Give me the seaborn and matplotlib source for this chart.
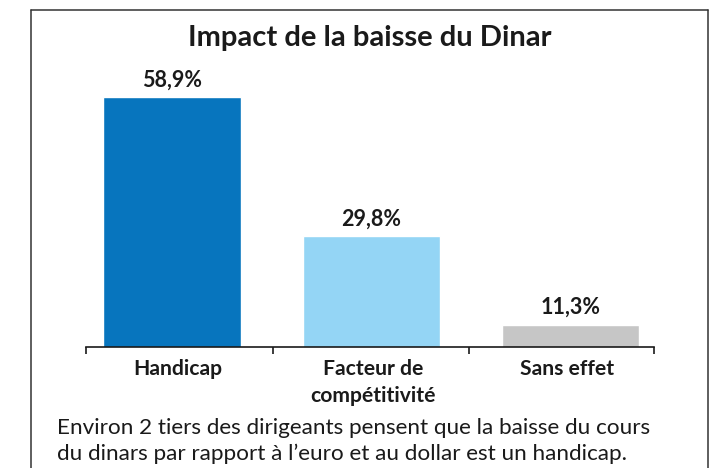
import matplotlib
matplotlib.use("Agg")
import matplotlib.pyplot as plt
import seaborn as sns
import pandas as pd
from matplotlib.lines import Line2D

categories = ["Handicap", "Facteur de\ncompétitivité", "Sans effet"]
values = [58.9, 29.8, 11.3]
value_labels = ["58,9%", "29,8%", "11,3%"]
colors = ["#0775BE", "#94D5F5", "#C6C6C6"]
title = "Impact de la baisse du Dinar"
caption = ("Environ 2 tiers des dirigeants pensent que la baisse du cours\n"
           "du dinars par rapport à l’euro et au dollar est un handicap.")

sns.set_theme(style="white")
plt.rcParams["font.family"] = ["Lato", "DejaVu Sans"]

df = pd.DataFrame({"cat": categories, "val": values})

W, H = 713, 468
fig = plt.figure(figsize=(W / 100, H / 100), dpi=100)
fig.patch.set_facecolor("white")

ax_left, ax_right = 86, 654
ax_bottom, ax_top = 346.5, 91.9
ax = fig.add_axes([ax_left / W, 1 - ax_bottom / H,
                   (ax_right - ax_left) / W, (ax_bottom - ax_top) / H])

sns.barplot(data=df, x="cat", y="val", hue="cat", palette=colors,
            width=0.688, saturation=1, legend=False, ax=ax)

ax.set_xlim(-0.4316, 2.419)
ax.set_ylim(6.7, 60)

for c, lab in zip(ax.containers, value_labels):
    ax.bar_label(c, labels=[lab], padding=5, fontsize=15.5, fontweight="bold",
                 color="#1a1a1a")

for s in ["left", "top", "right"]:
    ax.spines[s].set_visible(False)
ax.spines["bottom"].set_color("#1a1a1a")
ax.spines["bottom"].set_linewidth(1.2)

ax.set_yticks([])
ax.set_xticks([0.03, 1.01, 1.982])
ax.set_xticklabels(categories, fontsize=15.2, fontweight="bold",
                   color="#1a1a1a", linespacing=1.42)
ax.tick_params(axis="x", which="major", length=0, pad=9)
ax.set_xticks([-0.431, 0.507, 1.49, 2.418], minor=True)
ax.tick_params(axis="x", which="minor", bottom=True, length=5, width=1.2,
               color="#1a1a1a", direction="out")
ax.set_xlabel("")
ax.set_ylabel("")

fig.text(370 / W, 1 - 38 / H, title, ha="center", va="center",
         fontsize=21, fontweight="bold", color="#1a1a1a")

fig.text(56.7 / W, 1 - 460 / H, caption, ha="left", va="baseline",
         fontsize=16.2, color="#1a1a1a", linespacing=1.35)

# frame (left, top, right; bottom runs past the image)
fx0, fx1, fy0 = 30.5 / W, 708 / W, 1 - 10 / H
frame_kw = dict(color="#333333", linewidth=1.1, transform=fig.transFigure)
fig.add_artist(Line2D([fx0, fx0], [0, fy0], **frame_kw))
fig.add_artist(Line2D([fx0, fx1], [fy0, fy0], **frame_kw))
fig.add_artist(Line2D([fx1, fx1], [fy0, 0], **frame_kw))

fig.savefig("out.png", dpi=100)
